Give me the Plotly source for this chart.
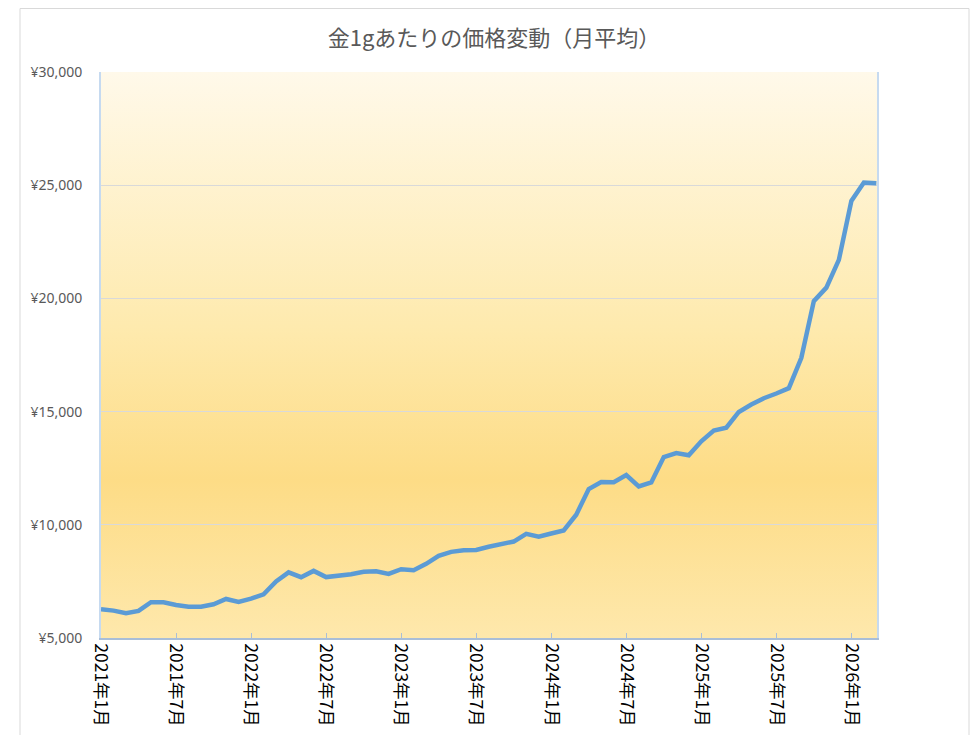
import base64
import plotly.graph_objects as go

# ---- data ----
years_months = [(y, m) for y in range(2021, 2027) for m in range(1, 13)]
categories = [f"{y}年{m}月" for (y, m) in years_months][:63]  # 2021年1月 .. 2026年3月

prices = [
    6270, 6210, 6090, 6195, 6580, 6580, 6460, 6385, 6385, 6490, 6725, 6595,
    6740, 6930, 7500, 7900, 7685, 7965, 7690, 7745, 7820, 7925, 7950, 7830,
    8040, 7995, 8275, 8630, 8805, 8880, 8890, 9030, 9160, 9260, 9600, 9470,
    9615, 9750, 10445, 11580, 11890, 11880, 12200, 11695, 11870, 12995, 13170, 13070,
    13690, 14160, 14290, 14985, 15310, 15590, 15800, 16035, 17375, 19880, 20475, 21700,
    24305, 25120, 25090,
]

tick_labels = categories[::6]
y_ticks = [5000, 10000, 15000, 20000, 25000, 30000]
y_tick_text = [f"¥{v:,}" for v in y_ticks]
title_text = "金1gあたりの価格変動（月平均）"

# ---- gradient background for plot area (SVG data URI) ----
svg = (
    '<svg xmlns="http://www.w3.org/2000/svg" width="100" height="100" preserveAspectRatio="none">'
    '<defs><linearGradient id="g" x1="0" y1="0" x2="0" y2="1">'
    '<stop offset="0" stop-color="#FFF9EA"/>'
    '<stop offset="0.45" stop-color="#FEEAAE"/>'
    '<stop offset="0.72" stop-color="#FDDC86"/>'
    '<stop offset="1" stop-color="#FEE8AC"/>'
    '</linearGradient></defs>'
    '<rect x="0" y="0" width="100" height="100" fill="url(#g)"/></svg>'
)
svg_uri = "data:image/svg+xml;base64," + base64.b64encode(svg.encode()).decode()

fig = go.Figure()
fig.add_trace(go.Scatter(
    x=categories, y=prices, mode="lines",
    line=dict(color="#5B9BD5", width=4.5),
    hovertemplate="%{x}: ¥%{y:,}<extra></extra>",
))

# the page adds an 8px body margin, so figure coords = page coords - 8
OFF = 8
W, H = 978 - OFF, 735 - OFF
L, R, T, B = 101 - OFF, 877 - OFF, 72 - OFF, 638 - OFF
pw, ph = R - L, B - T

def px(xp):
    return (xp - L) / pw

def py(yp):
    return (B - yp) / ph

fig.update_layout(
    width=W, height=H,
    margin=dict(l=L, r=W - R, t=T, b=H - B, autoexpand=False),
    paper_bgcolor="white",
    plot_bgcolor="rgba(0,0,0,0)",
    showlegend=False,
    title=dict(
        text=title_text, x=(494 - OFF) / W, xanchor="center", xref="container",
        y=1 - (38 - OFF) / H, yanchor="middle",
        font=dict(family="Noto Sans CJK JP", size=22, color="#595959"),
    ),
    images=[dict(
        source=svg_uri, xref="paper", yref="paper", x=0, y=1,
        sizex=1, sizey=1, xanchor="left", yanchor="top",
        sizing="stretch", layer="below",
    )],
    shapes=[dict(
        type="rect", xref="paper", yref="paper",
        x0=px(20 - OFF), x1=px(969 - OFF), y0=py(H + 10), y1=py(0.5),
        line=dict(color="#D9D9D9", width=1), fillcolor="rgba(0,0,0,0)",
        layer="below",
    )],
)

fig.update_xaxes(
    type="category",
    range=[0, len(categories) - 1 + 0.05],
    tickmode="array", tickvals=tick_labels, ticktext=tick_labels,
    tickangle=90,
    ticks="inside", ticklen=5, tickcolor="#A9BED8",
    showline=True, linecolor="#A9BED8", linewidth=1.5,
    showgrid=False, zeroline=False,
    tickfont=dict(family="Noto Sans CJK JP", size=17.5, color="#000000"),
)
fig.update_yaxes(
    range=[5000, 30000],
    tickmode="array", tickvals=y_ticks, ticktext=y_tick_text,
    showgrid=True, gridcolor="#D9D9D9", gridwidth=1,
    showline=True, linecolor="#C6DAF0", linewidth=2, mirror=True,
    zeroline=False, ticks="",
    ticklabelstandoff=14,
    tickfont=dict(family="Noto Sans", size=14, color="#595959"),
)

fig.write_html("out.html")
